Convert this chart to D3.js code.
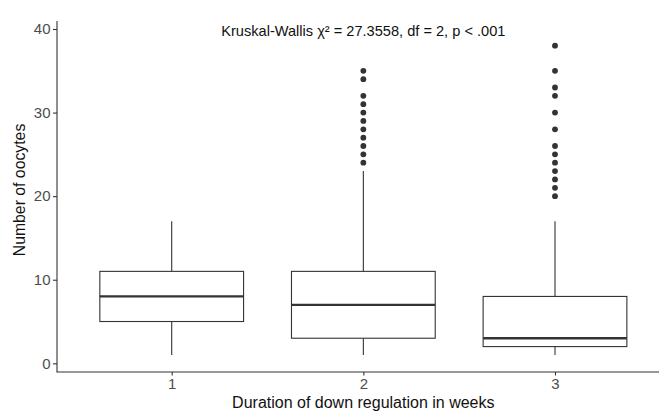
<!DOCTYPE html>
<html><head><meta charset="utf-8">
<script src="https://cdn.jsdelivr.net/npm/d3@7"></script>
<style>body{margin:0;background:#fff}svg{display:block}text{font-family:"Liberation Sans",Arial,sans-serif}</style>
</head><body><svg id="c" width="659" height="412"></svg>
<script>
const categories = ["1","2","3"];
const q1 = [5, 3, 2];
const medians = [8, 7, 3];
const q3 = [11, 11, 8];
const whiskerLow = [1, 1, 1];
const whiskerHigh = [17, 23, 17];
const outliers = [
  [],
  [24,25,26,27,28,29,30,31,32,34,35],
  [20,21,22,23,24,25,26,28,30,32,33,35,38]
];
const yTicks = [0,10,20,30,40];
const title = "Kruskal-Wallis \u03c7\u00b2 = 27.3558, df = 2, p < .001";

const svg = d3.select("#c");
const x = d3.scalePoint().domain(categories).range([171.7, 555]);
const step = x.step();
const y = d3.scaleLinear().domain([0,40]).range([363.3, 29]);
const boxW = step*0.75;
const col = "#333333";

// boxes
categories.forEach((c,i)=>{
  const cx = x(c);
  const g = svg.append("g");
  g.append("line").attr("x1",cx).attr("x2",cx).attr("y1",y(q3[i])).attr("y2",y(whiskerHigh[i])).attr("stroke",col).attr("stroke-width",1.1);
  g.append("line").attr("x1",cx).attr("x2",cx).attr("y1",y(q1[i])).attr("y2",y(whiskerLow[i])).attr("stroke",col).attr("stroke-width",1.1);
  g.append("rect").attr("x",cx-boxW/2).attr("y",y(q3[i])).attr("width",boxW).attr("height",y(q1[i])-y(q3[i]))
    .attr("fill","#fff").attr("stroke",col).attr("stroke-width",1.1);
  g.append("line").attr("x1",cx-boxW/2).attr("x2",cx+boxW/2).attr("y1",y(medians[i])).attr("y2",y(medians[i])).attr("stroke",col).attr("stroke-width",2.3);
  g.selectAll("circle").data(outliers[i]).join("circle").attr("cx",cx).attr("cy",d=>y(d)).attr("r",2.9).attr("fill",col);
});

// y axis
const yAxis = svg.append("g").attr("transform","translate(57,0)")
  .call(d3.axisLeft(y).tickValues(yTicks).tickSize(4).tickPadding(2.5));
yAxis.select(".domain").remove();
yAxis.append("line").attr("x1",0).attr("x2",0).attr("y1",21).attr("y2",372).attr("stroke",col).attr("stroke-width",1.1);
yAxis.selectAll(".tick line").attr("stroke",col).attr("stroke-width",1.1);
yAxis.selectAll(".tick text").attr("fill","#4d4d4d").attr("font-size",15).attr("font-family","Liberation Sans, Arial, sans-serif");

// x axis
const xAxis = svg.append("g").attr("transform","translate(0,372)")
  .call(d3.axisBottom(x).tickSize(3.5).tickPadding(3));
xAxis.select(".domain").remove();
xAxis.append("line").attr("x1",56.5).attr("x2",659).attr("y1",0).attr("y2",0).attr("stroke",col).attr("stroke-width",1.1);
xAxis.selectAll(".tick line").attr("stroke",col).attr("stroke-width",1.1);
xAxis.selectAll(".tick text").attr("fill","#4d4d4d").attr("font-size",15).attr("font-family","Liberation Sans, Arial, sans-serif");

// titles
svg.append("text").attr("x",363.3).attr("y",407.5).attr("text-anchor","middle").attr("font-size",16).attr("fill","#111").text("Duration of down regulation in weeks");
svg.append("text").attr("transform","translate(25,190) rotate(-90)").attr("text-anchor","middle").attr("font-size",15.8).attr("fill","#111").text("Number of oocytes");
svg.append("text").attr("x",363.3).attr("y",35.5).attr("text-anchor","middle").attr("font-size",14.6).attr("fill","#111").text(title);
</script></body></html>
